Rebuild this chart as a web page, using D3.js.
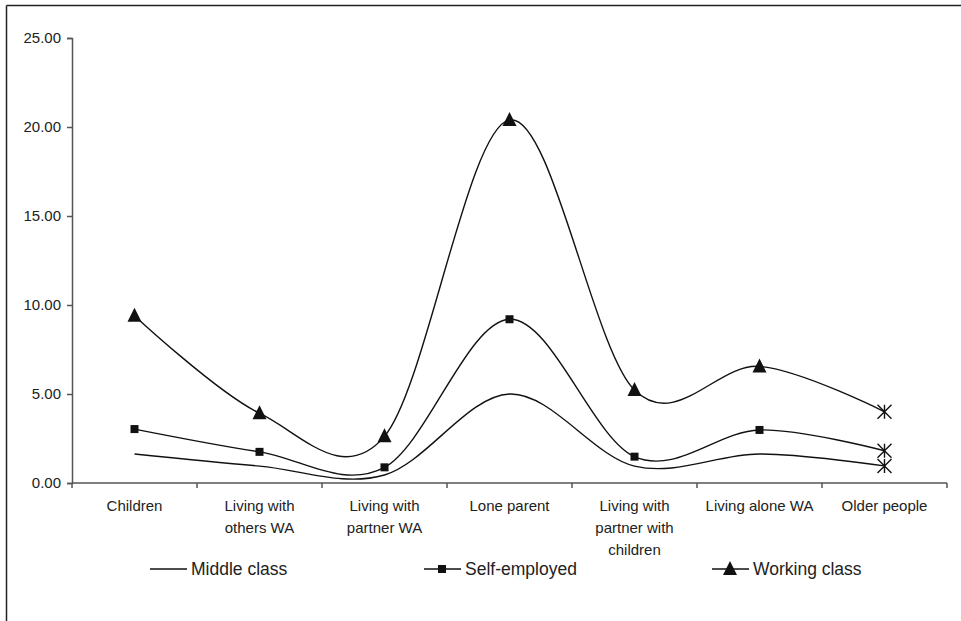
<!DOCTYPE html>
<html>
<head>
<meta charset="utf-8">
<script src="https://cdn.jsdelivr.net/npm/d3@7"></script>
<style>
  html, body { margin: 0; padding: 0; background: #fff; }
  svg { display: block; font-family: Arial, "Liberation Sans", sans-serif; }
</style>
</head>
<body>
<svg id="chart" width="961" height="621"></svg>
<script>
// Household types along the x axis (multi-line labels)
const categories = [
  ["Children"],
  ["Living with", "others WA"],
  ["Living with", "partner WA"],
  ["Lone parent"],
  ["Living with", "partner with", "children"],
  ["Living alone WA"],
  ["Older people"]
];

// Series values per household type
const middleClass  = [1.63, 0.95, 0.45, 5.00, 0.95, 1.63, 0.96];
const selfEmployed = [3.03, 1.75, 0.88, 9.20, 1.48, 2.98, 1.81];
const workingClass = [9.40, 3.92, 2.62, 20.40, 5.22, 6.55, 4.00];

const seriesNames = ["Middle class", "Self-employed", "Working class"];
const yTicks = [0, 5, 10, 15, 20, 25];

const series = [
  { name: seriesNames[0], values: middleClass,  marker: "none" },
  { name: seriesNames[1], values: selfEmployed, marker: "square" },
  { name: seriesNames[2], values: workingClass, marker: "triangle" }
];

const svg = d3.select("#chart");
const margin = { left: 72, right: 14, top: 38, bottom: 138 };
const W = 961, H = 621;
const plotW = 947 - margin.left;
const x0 = margin.left, y0 = 483;

// Frame around the chart area
svg.append("line").attr("x1", 6.5).attr("y1", 5.5).attr("x2", W).attr("y2", 5.5)
  .attr("stroke", "#222").attr("stroke-width", 1.5);
svg.append("line").attr("x1", 6.5).attr("y1", 5.5).attr("x2", 6.5).attr("y2", H)
  .attr("stroke", "#222").attr("stroke-width", 1.5);

const x = d3.scaleBand()
  .domain(d3.range(categories.length))
  .range([x0, x0 + plotW])
  .paddingInner(0).paddingOuter(0);

const y = d3.scaleLinear().domain([0, 25]).range([y0, 38]);

const axisColor = "#555";

// Y axis
const yAxis = svg.append("g").attr("transform", `translate(${x0},0)`)
  .call(d3.axisLeft(y).tickValues(yTicks).tickFormat(d3.format(".2f")).tickSize(5).tickPadding(6));
yAxis.select(".domain").attr("stroke", axisColor).attr("stroke-width", 1.5);
yAxis.selectAll(".tick line").attr("stroke", axisColor).attr("stroke-width", 1.5);
yAxis.selectAll(".tick text").attr("font-size", 15).attr("fill", "#222")
  .attr("font-family", "Arial, 'Liberation Sans', sans-serif");

// X axis with ticks on category boundaries
const xAxisG = svg.append("g").attr("transform", `translate(0,${y0})`);
xAxisG.append("line").attr("x1", x0).attr("x2", x0 + plotW)
  .attr("stroke", axisColor).attr("stroke-width", 1.5);
d3.range(categories.length + 1).forEach(i => {
  const xx = x0 + i * x.bandwidth();
  xAxisG.append("line").attr("x1", xx).attr("x2", xx).attr("y1", 0).attr("y2", 5)
    .attr("stroke", axisColor).attr("stroke-width", 1.5);
});
categories.forEach((lines, i) => {
  const t = xAxisG.append("text")
    .attr("x", x(i) + x.bandwidth() / 2)
    .attr("y", 28)
    .attr("text-anchor", "middle")
    .attr("font-size", 15)
    .attr("fill", "#222");
  lines.forEach((ln, j) => {
    t.append("tspan").attr("x", x(i) + x.bandwidth() / 2).attr("dy", j === 0 ? 0 : 22).text(ln);
  });
});

const cx = i => x(i) + x.bandwidth() / 2;

const line = d3.line()
  .x((d, i) => cx(i))
  .y(d => y(d))
  .curve(d3.curveCatmullRom.alpha(0));

const g = svg.append("g");
series.forEach(s => {
  g.append("path")
    .datum(s.values)
    .attr("d", line)
    .attr("fill", "none")
    .attr("stroke", "#111")
    .attr("stroke-width", 1.4);
});

function drawMarker(sel, type, px, py) {
  if (type === "square") {
    sel.append("rect").attr("x", px - 4).attr("y", py - 4).attr("width", 8).attr("height", 8)
      .attr("fill", "#111");
  } else if (type === "triangle") {
    sel.append("path")
      .attr("d", `M${px},${py - 8} L${px + 7},${py + 6} L${px - 7},${py + 6} Z`)
      .attr("fill", "#111");
  } else if (type === "star") {
    const r = 7;
    sel.append("path")
      .attr("d", `M${px - r},${py - r} L${px + r},${py + r} M${px - r},${py + r} L${px + r},${py - r} M${px},${py - r} L${px},${py + r}`)
      .attr("stroke", "#111").attr("stroke-width", 1.4).attr("fill", "none");
  }
}

// Markers: the final category is marked with an asterisk for every series
series.forEach(s => {
  s.values.forEach((v, i) => {
    const last = i === s.values.length - 1;
    drawMarker(g, last ? "star" : s.marker, cx(i), y(v));
  });
});

// Legend
const legendY = 569;
const legendItems = [
  { x: 150, name: seriesNames[0], marker: "none" },
  { x: 424, name: seriesNames[1], marker: "square" },
  { x: 712, name: seriesNames[2], marker: "triangle" }
];
const lg = svg.append("g");
legendItems.forEach(it => {
  lg.append("line").attr("x1", it.x).attr("x2", it.x + 37).attr("y1", legendY).attr("y2", legendY)
    .attr("stroke", "#111").attr("stroke-width", 1.4);
  drawMarker(lg, it.marker, it.x + 18, legendY);
  lg.append("text").attr("x", it.x + 41).attr("y", legendY + 6)
    .attr("font-size", 17.5).attr("fill", "#222").text(it.name);
});
</script>
</body>
</html>
